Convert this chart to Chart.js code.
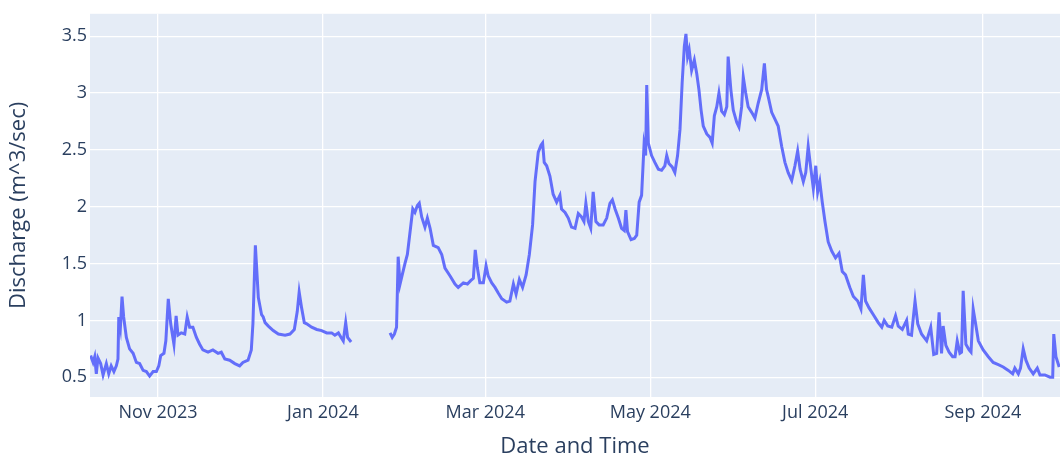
<!DOCTYPE html>
<html>
<head>
<meta charset="utf-8">
<script src="https://cdn.jsdelivr.net/npm/chart.js"></script>
<style>
  html, body { margin: 0; padding: 0; background: #ffffff; overflow: hidden; }
  #wrap { width: 1060px; height: 455px; position: relative; }
</style>
</head>
<body>
<div id="wrap"><canvas id="dischargeChart"></canvas></div>
<script>
// x = days since 2023-10-01
const monthTicks = [31, 92, 152, 213, 274, 336];
const monthLabels = ['Nov 2023', 'Jan 2024', 'Mar 2024', 'May 2024', 'Jul 2024', 'Sep 2024'];
const yTicks = [0.5, 1, 1.5, 2, 2.5, 3, 3.5];
const yTickLabels = ['0.5', '1', '1.5', '2', '2.5', '3', '3.5'];

const dayOffsets = [
  6.1, 7.0, 7.6, 8.2, 8.8, 9.8, 10.7, 11.9, 12.8, 13.7, 14.7, 15.6, 16.2, 16.5, 17.1, 17.7, 18.3, 19.3, 20.5, 21.8,
  23.0, 24.2, 25.5, 26.7, 27.9, 29.2, 30.4, 31.3, 32.0, 33.2, 33.9, 34.8, 35.7, 36.9, 37.7, 38.4, 39.6, 40.9, 41.8, 42.7,
  43.9, 45.2, 46.4, 47.6, 49.5, 51.3, 53.2, 54.4, 55.7, 57.5, 59.4, 61.2, 62.4, 64.3, 65.5, 66.1, 67.0, 68.1, 69.3, 69.9,
  70.6, 71.8, 73.6, 75.5, 78.0, 79.8, 81.4, 82.5, 83.2, 84.1, 85.1, 86.0, 87.8, 89.7, 91.5, 93.4, 95.2, 96.4, 97.7, 98.7,
  99.5, 100.4, 101.1, 102.4, 110,
  116.8, 117.6, 118.4, 119.2, 119.8, 120.5, 121.3, 122.3, 123.2, 124.2, 125.2, 126.0, 126.9, 127.6, 128.5, 129.7, 130.6, 131.6, 132.8, 134.6,
  135.9, 137.1, 139.0, 140.8, 142.0, 143.9, 145.4, 146.6, 147.6, 148.3, 149.1, 150.0, 151.3, 152.3, 153.1, 154.4, 155.6, 156.8, 158.1, 159.9,
  161.1, 162.4, 163.4, 164.6, 165.8, 167.1, 168.3, 169.5, 170.4, 171.6, 172.6, 173.2, 173.8, 174.7, 175.9, 177.1, 178.4, 179.6, 180.2, 181.5,
  182.7, 183.9, 185.2, 186.4, 187.6, 188.5, 189.2, 190.1, 191.0, 191.9, 192.9, 194.1, 195.6, 196.9, 198.1, 199.0, 200.0, 201.2, 202.4, 203.4,
  204.0, 204.6, 205.9, 207.1, 208.0, 208.9, 209.8, 210.7, 211.3, 211.7, 212.3, 213.5, 214.7, 216.0, 217.2, 218.4, 219.1, 219.9, 221.1, 222.1,
  223.1, 224.0, 224.8, 225.6, 226.2, 226.8, 227.4, 228.3, 229.3, 230.2, 231.0, 231.8, 232.6, 233.9, 235.1, 235.9, 236.7, 237.6, 238.4, 239.4,
  240.4, 241.3, 241.8, 242.8, 243.7, 245.0, 245.8, 246.8, 247.4, 248.3, 249.2, 250.5, 251.7, 252.9, 254.2, 255.2, 256.0, 256.6, 257.9, 259.1,
  260.3, 261.6, 262.8, 264.0, 265.3, 266.5, 267.5, 268.4, 269.6, 270.5, 271.4, 272.4, 273.3, 274.2, 274.9, 275.7, 276.6, 277.6, 278.8, 280.1,
  281.5, 282.8, 284.0, 285.2, 286.8, 288.1, 289.7, 290.9, 291.8, 292.6, 293.9, 295.5, 297.3, 298.6, 299.5, 300.8, 302.3, 303.7, 304.7, 306.2,
  307.8, 308.4, 309.6, 310.9, 311.9, 313.3, 315.2, 316.7, 317.8, 318.9, 319.8, 320.7, 321.3, 322.3, 323.5, 324.8, 325.7, 326.5, 327.5, 328.1,
  328.7, 329.7, 330.9, 331.6, 332.4, 333.3, 334.3, 336.1, 338.0, 339.8, 341.7, 343.5, 345.4, 347.0, 347.8, 349.1, 349.9, 350.9, 351.9, 353.1,
  354.6, 356.1, 357.1, 358.9, 360.8, 361.8, 362.2, 363.0, 364.2
];

const discharge = [
  0.69, 0.63, 0.68, 0.53, 0.67, 0.62, 0.52, 0.62, 0.53, 0.60, 0.55, 0.60, 0.66, 1.03, 0.94, 1.21, 1.03, 0.85, 0.75, 0.71,
  0.63, 0.62, 0.56, 0.55, 0.51, 0.55, 0.55, 0.60, 0.69, 0.71, 0.82, 1.19, 0.97, 0.79, 1.04, 0.87, 0.89, 0.88, 1.03, 0.94,
  0.94, 0.85, 0.79, 0.74, 0.72, 0.74, 0.71, 0.72, 0.66, 0.65, 0.62, 0.60, 0.63, 0.65, 0.74, 0.97, 1.66, 1.20, 1.05, 1.03,
  0.98, 0.95, 0.91, 0.88, 0.87, 0.88, 0.92, 1.08, 1.25, 1.11, 0.98, 0.97, 0.94, 0.92, 0.91, 0.89, 0.89, 0.87, 0.89, 0.85,
  0.82, 0.98, 0.85, 0.81, null,
  0.89, 0.85, 0.88, 0.94, 1.56, 1.32, 1.40, 1.50, 1.58, 1.78, 1.98, 1.95, 2.01, 2.03, 1.91, 1.82, 1.90, 1.81, 1.66, 1.64,
  1.58, 1.46, 1.39, 1.32, 1.29, 1.33, 1.32, 1.35, 1.37, 1.62, 1.46, 1.33, 1.33, 1.48, 1.39, 1.33, 1.29, 1.24, 1.19, 1.16,
  1.17, 1.32, 1.23, 1.36, 1.29, 1.40, 1.58, 1.84, 2.22, 2.48, 2.54, 2.56, 2.39, 2.36, 2.27, 2.11, 2.04, 2.10, 1.98, 1.95,
  1.90, 1.82, 1.81, 1.94, 1.91, 1.87, 2.03, 1.87, 1.81, 2.13, 1.87, 1.84, 1.84, 1.90, 2.03, 2.06, 1.98, 1.90, 1.81, 1.79,
  1.97, 1.78, 1.71, 1.72, 1.75, 2.04, 2.10, 2.54, 2.45, 3.07, 2.56, 2.45, 2.39, 2.33, 2.32, 2.36, 2.45, 2.38, 2.35, 2.30,
  2.45, 2.68, 3.09, 3.41, 3.52, 3.32, 3.38, 3.20, 3.29, 3.17, 3.03, 2.85, 2.71, 2.64, 2.61, 2.56, 2.80, 2.88, 3.00, 2.84,
  2.81, 2.88, 3.32, 3.03, 2.85, 2.74, 2.70, 2.88, 3.14, 3.00, 2.88, 2.83, 2.78, 2.91, 3.03, 3.26, 3.03, 2.97, 2.83, 2.77,
  2.71, 2.53, 2.39, 2.30, 2.23, 2.36, 2.49, 2.33, 2.22, 2.30, 2.53, 2.33, 2.16, 2.36, 2.13, 2.22, 2.04, 1.87, 1.69, 1.61,
  1.55, 1.59, 1.43, 1.40, 1.29, 1.21, 1.17, 1.10, 1.40, 1.17, 1.11, 1.05, 0.98, 0.94, 1.00, 0.95, 0.94, 1.04, 0.95, 0.92,
  1.00, 0.88, 0.87, 1.17, 0.97, 0.88, 0.82, 0.94, 0.70, 0.71, 1.07, 0.71, 0.95, 0.78, 0.72, 0.68, 0.68, 0.82, 0.71, 0.72,
  1.26, 0.79, 0.74, 0.72, 1.10, 0.97, 0.82, 0.74, 0.68, 0.63, 0.61, 0.59, 0.56, 0.53, 0.58, 0.53, 0.58, 0.75, 0.65, 0.58,
  0.53, 0.58, 0.52, 0.52, 0.50, 0.50, 0.88, 0.68, 0.59
];

const xMin = 5.86, xMax = 364.5;
const yMin = 0.326, yMax = 3.697;

const points = dayOffsets.map((d, i) => ({ x: d, y: discharge[i] }));

const plotBackground = {
    id: 'plotBackground',
    beforeDraw(chart) {
        const { ctx, chartArea } = chart;
        ctx.save();
        ctx.fillStyle = '#ffffff';
        ctx.fillRect(0, 0, chart.width, chart.height);
        ctx.fillStyle = '#e5ecf6';
        ctx.fillRect(chartArea.left, chartArea.top, chartArea.right - chartArea.left, chartArea.bottom - chartArea.top);
        ctx.restore();
    }
};

const textColor = '#2a3f5f';
const fontFamily = "'Open Sans', 'DejaVu Sans', sans-serif";

new Chart(document.getElementById('dischargeChart').getContext('2d'), {
    type: 'line',
    data: {
        datasets: [{
            label: 'Discharge',
            data: points,
            borderColor: '#636efa',
            borderWidth: 3,
            pointRadius: 0,
            tension: 0,
            spanGaps: false,
            fill: false
        }]
    },
    options: {
        responsive: true,
        maintainAspectRatio: false,
        animation: false,
        layout: { padding: { top: 10, right: 0, bottom: 0, left: 0 } },
        plugins: { legend: { display: false }, tooltip: { enabled: false } },
        scales: {
            x: {
                type: 'linear',
                min: xMin,
                max: xMax,
                afterBuildTicks: (scale) => { scale.ticks = monthTicks.map(v => ({ value: v })); },
                afterFit: (scale) => { scale.height = 58; },
                grid: { color: '#ffffff', lineWidth: 1.3, drawTicks: false },
                border: { display: false },
                ticks: {
                    autoSkip: false,
                    maxRotation: 0,
                    padding: 5,
                    color: textColor,
                    font: { family: fontFamily, size: 18 },
                    callback: (v) => monthLabels[monthTicks.indexOf(v)]
                },
                title: {
                    display: true,
                    text: 'Date and Time',
                    color: textColor,
                    font: { family: fontFamily, size: 22, lineHeight: 1.2 },
                    padding: { top: 0, bottom: -5 }
                }
            },
            y: {
                type: 'linear',
                min: yMin,
                max: yMax,
                afterBuildTicks: (scale) => { scale.ticks = yTicks.map(v => ({ value: v })); },
                afterFit: (scale) => { scale.width = 90; },
                grid: { color: '#ffffff', lineWidth: 1.3, drawTicks: false },
                border: { display: false },
                ticks: {
                    padding: 3,
                    color: textColor,
                    font: { family: fontFamily, size: 18 },
                    callback: (v) => yTickLabels[yTicks.indexOf(v)]
                },
                title: {
                    display: true,
                    text: 'Discharge (m^3/sec)',
                    color: textColor,
                    font: { family: fontFamily, size: 22, lineHeight: 1.2 },
                    padding: { top: 6, bottom: 0 }
                }
            }
        }
    },
    plugins: [plotBackground]
});
</script>
</body>
</html>
